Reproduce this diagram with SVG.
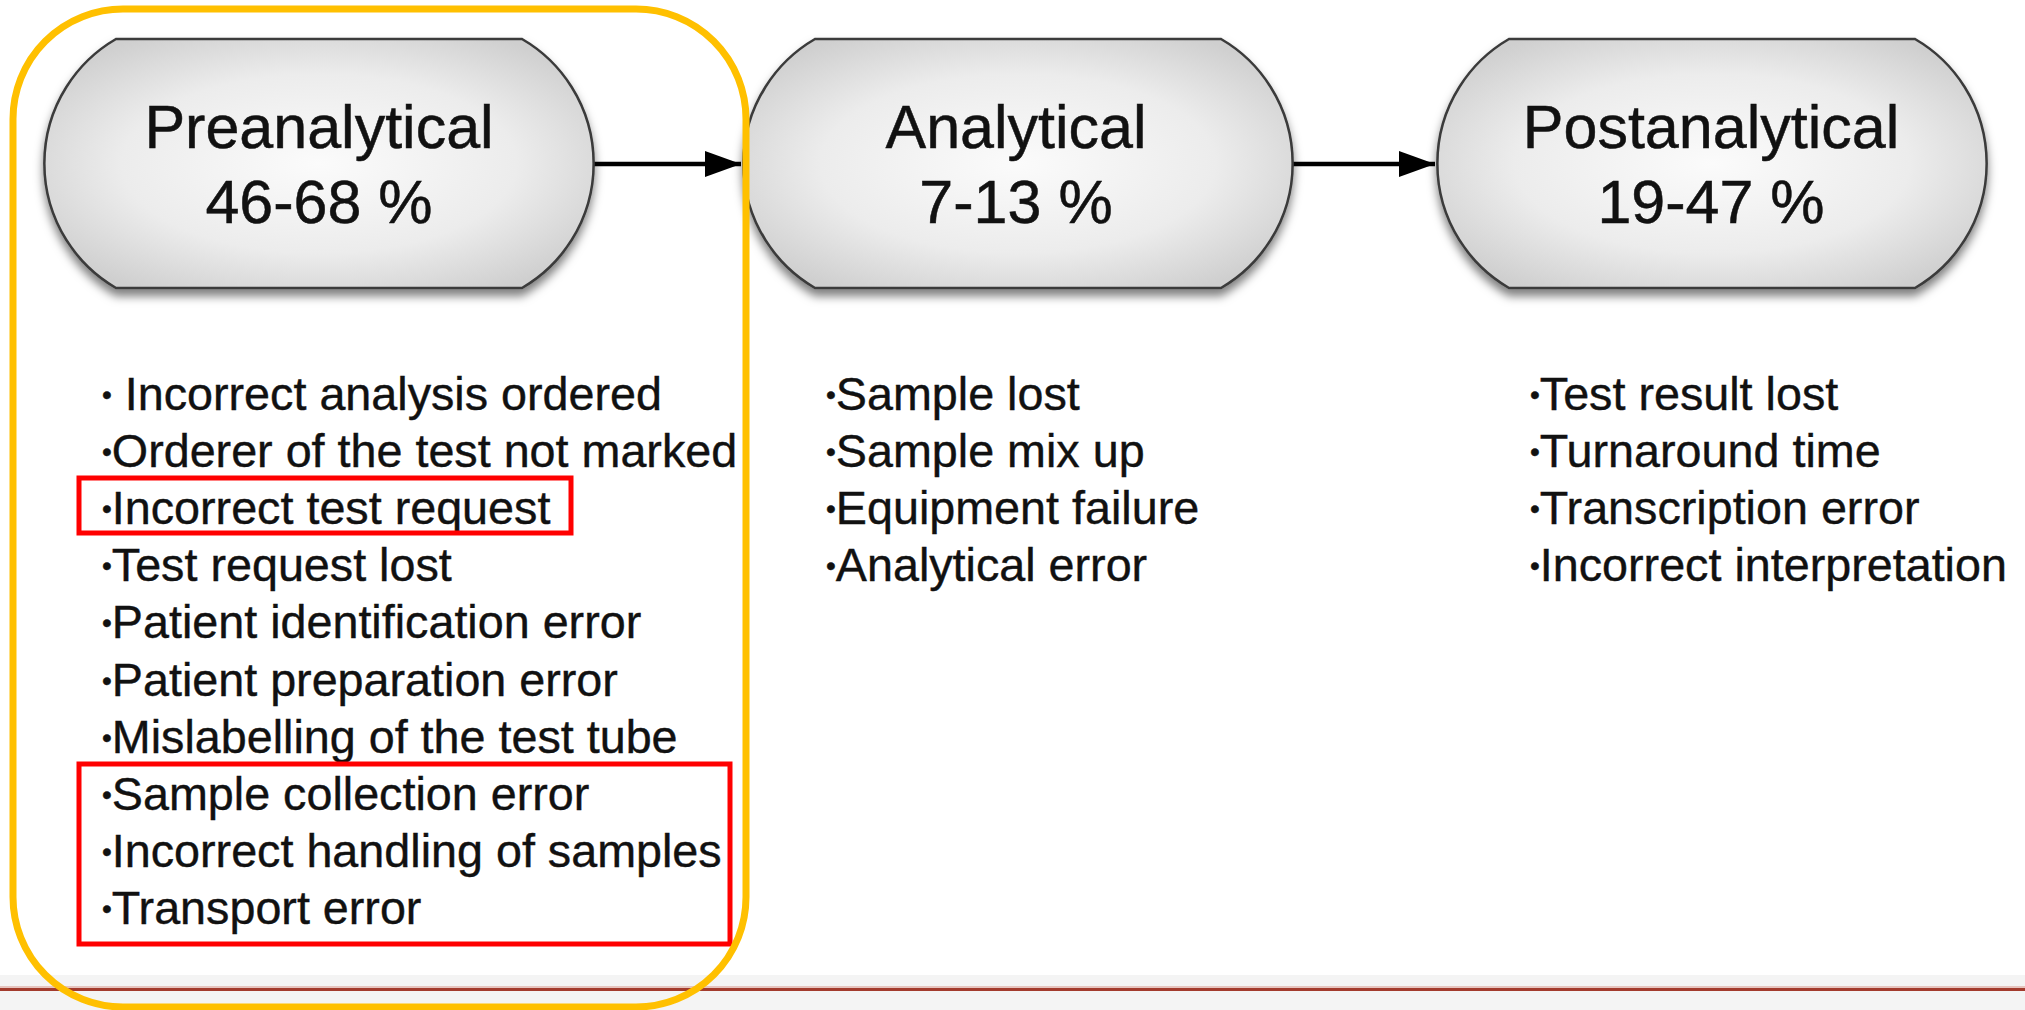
<svg xmlns="http://www.w3.org/2000/svg" width="2025" height="1010" viewBox="0 0 2025 1010">
  <defs>
    <radialGradient id="nodeFill" cx="50%" cy="50%" r="60%">
      <stop offset="0" stop-color="#fbfbfb"/>
      <stop offset="0.6" stop-color="#ececec"/>
      <stop offset="1" stop-color="#cfcfcf"/>
    </radialGradient>
    <filter id="shadow" x="-10%" y="-10%" width="120%" height="130%">
      <feDropShadow dx="0" dy="7" stdDeviation="5" flood-color="#000" flood-opacity="0.5"/>
    </filter>
    <marker id="arrowBig" markerWidth="36" markerHeight="26" refX="36" refY="13" orient="auto" markerUnits="userSpaceOnUse">
      <path d="M0,0 L36,13 L0,26 Z" fill="#000"/>
    </marker>
  </defs>
  <style>
    .node { fill: url(#nodeFill); stroke: #3a3a3a; stroke-width: 2.5; filter: url(#shadow); }
    .title { font-family: "Liberation Sans", Arial, Helvetica, sans-serif; font-size: 61px; fill: #111; stroke: #111; stroke-width: 0.5; text-anchor: middle; }
    .item { font-family: "Liberation Sans", Arial, Helvetica, sans-serif; font-size: 46.7px; fill: #111; stroke: #111; stroke-width: 0.4; }
    .b { font-size: 28px; }
    .conn { stroke: #000; stroke-width: 4.5; fill: none; }
    .hl { fill: none; stroke: #ff0000; stroke-width: 5; }
    .focus { fill: none; stroke: #ffc000; stroke-width: 7; }
  </style>

  <rect x="0" y="0" width="2025" height="1010" fill="#ffffff"/>
  <!-- bottom band -->
  <rect x="0" y="975" width="2025" height="35" fill="#f4f4f4"/>
  <line x1="0" y1="987" x2="2025" y2="987" stroke="#e2b4ac" stroke-width="1.5"/>
  <line x1="0" y1="989.5" x2="2025" y2="989.5" stroke="#a33b2d" stroke-width="3"/>

  <g id="connectors">
    <line class="conn" x1="594" y1="164" x2="741" y2="164" marker-end="url(#arrowBig)"/>
    <line class="conn" x1="1293" y1="164" x2="1435" y2="164" marker-end="url(#arrowBig)"/>
  </g>

  <g id="node-preanalytical">
    <path class="node" d="M116,39 H522 A144,144 0 0 1 522,288 H116 A144,144 0 0 1 116,39 Z"/>
    <text class="title" x="319" y="148">Preanalytical</text>
    <text class="title" x="319" y="223">46-68 %</text>
  </g>

  <g id="node-analytical">
    <path class="node" d="M815,39 H1221 A144,144 0 0 1 1221,288 H815 A144,144 0 0 1 815,39 Z"/>
    <text class="title" x="1016" y="148">Analytical</text>
    <text class="title" x="1016" y="223">7-13 %</text>
  </g>

  <g id="node-postanalytical">
    <path class="node" d="M1509,39 H1915 A144,144 0 0 1 1915,288 H1509 A144,144 0 0 1 1509,39 Z"/>
    <text class="title" x="1711" y="148">Postanalytical</text>
    <text class="title" x="1711" y="223">19-47 %</text>
  </g>

  <g id="list-preanalytical">
    <text class="item" x="102" y="410"><tspan class="b" dy="-6">•</tspan><tspan dy="6"> Incorrect analysis ordered</tspan></text>
    <text class="item" x="102" y="467"><tspan class="b" dy="-6">•</tspan><tspan dy="6">Orderer of the test not marked</tspan></text>
    <text class="item" x="102" y="524"><tspan class="b" dy="-6">•</tspan><tspan dy="6">Incorrect test request</tspan></text>
    <text class="item" x="102" y="581"><tspan class="b" dy="-6">•</tspan><tspan dy="6">Test request lost</tspan></text>
    <text class="item" x="102" y="638"><tspan class="b" dy="-6">•</tspan><tspan dy="6">Patient identification error</tspan></text>
    <text class="item" x="102" y="696"><tspan class="b" dy="-6">•</tspan><tspan dy="6">Patient preparation error</tspan></text>
    <text class="item" x="102" y="753"><tspan class="b" dy="-6">•</tspan><tspan dy="6">Mislabelling of the test tube</tspan></text>
    <text class="item" x="102" y="810"><tspan class="b" dy="-6">•</tspan><tspan dy="6">Sample collection error</tspan></text>
    <text class="item" x="102" y="867"><tspan class="b" dy="-6">•</tspan><tspan dy="6">Incorrect handling of samples</tspan></text>
    <text class="item" x="102" y="924"><tspan class="b" dy="-6">•</tspan><tspan dy="6">Transport error</tspan></text>
  </g>

  <g id="list-analytical">
    <text class="item" x="826" y="410"><tspan class="b" dy="-6">•</tspan><tspan dy="6">Sample lost</tspan></text>
    <text class="item" x="826" y="467"><tspan class="b" dy="-6">•</tspan><tspan dy="6">Sample mix up</tspan></text>
    <text class="item" x="826" y="524"><tspan class="b" dy="-6">•</tspan><tspan dy="6">Equipment failure</tspan></text>
    <text class="item" x="826" y="581"><tspan class="b" dy="-6">•</tspan><tspan dy="6">Analytical error</tspan></text>
  </g>

  <g id="list-postanalytical">
    <text class="item" x="1530" y="410"><tspan class="b" dy="-6">•</tspan><tspan dy="6">Test result lost</tspan></text>
    <text class="item" x="1530" y="467"><tspan class="b" dy="-6">•</tspan><tspan dy="6">Turnaround time</tspan></text>
    <text class="item" x="1530" y="524"><tspan class="b" dy="-6">•</tspan><tspan dy="6">Transcription error</tspan></text>
    <text class="item" x="1530" y="581"><tspan class="b" dy="-6">•</tspan><tspan dy="6">Incorrect interpretation</tspan></text>
  </g>

  <g id="highlights">
    <rect class="hl" x="79" y="478" width="492" height="55"/>
    <rect class="hl" x="79" y="764" width="651" height="180"/>
    <rect class="focus" x="13" y="9" width="733" height="998" rx="110" ry="110"/>
  </g>
</svg>
